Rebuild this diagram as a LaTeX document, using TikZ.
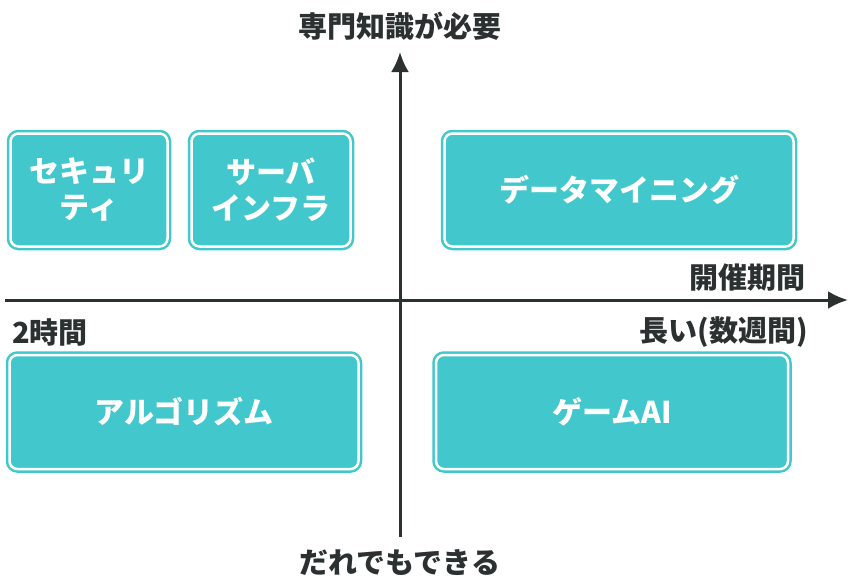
\documentclass[tikz,border=0pt]{standalone}
\usepackage{fontspec}
\setmainfont{Noto Sans CJK JP Black}
\usetikzlibrary{arrows.meta}
\definecolor{tl}{HTML}{42C8CC}
\definecolor{ax}{HTML}{2B3030}
\tikzset{
 box/.style={rounded corners=8pt, fill=tl, draw=tl, double=white, double distance=2.5pt, line width=2.5pt, text=white, font=\fontsize{30}{36}\selectfont, align=center, inner sep=0pt},
 lab/.style={text=ax, font=\fontsize{29}{32}\selectfont, inner sep=0pt},
 axis/.style={ax, line width=3pt, -{Latex[length=20pt,width=18pt]}}
}
\begin{document}
\begin{tikzpicture}[x=1pt,y=-1pt]
\useasboundingbox (0,0) rectangle (850,584);
\node[box, minimum width=157pt, minimum height=113pt] (a) at (89,190) {セキュリ\\ティ};
\node[box, minimum width=159pt, minimum height=113pt] (b) at (271,190) {サーバ\\インフラ};
\node[box, minimum width=349pt, minimum height=113pt] (c) at (619,190) {データマイニング};
\node[box, minimum width=349pt, minimum height=114pt] (d) at (184,412) {アルゴリズム};
\node[box, minimum width=352pt, minimum height=114pt] (e) at (612,412) {ゲームAI};
\coordinate (l) at (5,300); \coordinate (r) at (848,300);
\coordinate (bt) at (400,537); \coordinate (tp) at (400,52);
\draw[axis] (l) -- (r);
\draw[axis] (bt) -- (tp);
\node[lab] (t1) at (400,26) {専門知識が必要};
\node[lab] (t2) at (400,563) {だれでもできる};
\node[lab, anchor=east] (t3) at (806,278) {開催期間};
\node[lab, anchor=west] (t4) at (12,332) {2時間};
\node[lab, anchor=east] (t5) at (808,332) {長い(数週間)};
\end{tikzpicture}
\end{document}
